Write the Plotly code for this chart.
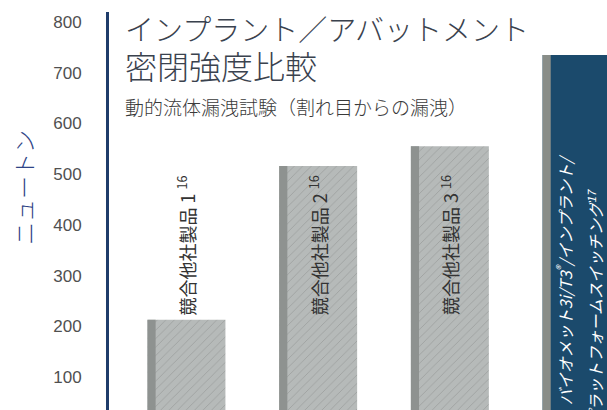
import plotly.graph_objects as go

# ---- data ----
categories = ["競合他社製品 1", "競合他社製品 2", "競合他社製品 3", "バイオメット3i/T3®"]
values = [213, 516, 555, 735]
ref_marks = ["16", "16", "16", "17"]
tick_vals = [100, 200, 300, 400, 500, 600, 700, 800]
tick_text = ["100", "200", "300", "400", "500", "600", "700", "800"]
bar4_lines = ["バイオメット3i/T3<sup>®</sup>/インプラント/", "プラットフォームスイッチング<sup>17</sup>"]

main_colors = ["#b6bab9", "#b6bab9", "#b6bab9", "#1b4a6c"]
edge_colors = ["#8e9290", "#8e9290", "#8e9290", "#898d88"]

BW = 0.592
EW = 0.062
JP = "Noto Sans CJK JP"

fig = go.Figure()
fig.add_trace(go.Bar(
    x=categories, y=values, width=BW, offset=-BW / 2,
    marker=dict(color=main_colors, line=dict(width=0),
                pattern=dict(shape=["/", "/", "/", ""], fgcolor="#d0d3d2",
                             fgopacity=0.25, size=6, solidity=0.12)),
    hoverinfo="skip", showlegend=False,
))
fig.add_trace(go.Bar(
    x=categories, y=values, width=EW, offset=-BW / 2,
    marker=dict(color=edge_colors, line=dict(width=0)),
    hoverinfo="skip", showlegend=False,
))

annotations = []
# rotated labels for competitor bars
label_y = 360
for i in range(3):
    annotations.append(dict(
        x=categories[i], y=label_y, xref="x", yref="y",
        text=f"{categories[i]} <sup>{ref_marks[i]}</sup>",
        textangle=-90, showarrow=False, xanchor="center", yanchor="middle",
        font=dict(family=JP, size=18, color="#333333"),
    ))
# Biomet bar two lines
annotations.append(dict(
    x=categories[3], xshift=-17, y=292, xref="x", yref="y", text=bar4_lines[0],
    textangle=-90, showarrow=False, xanchor="center", yanchor="middle",
    font=dict(family=JP, size=16, color="#ffffff", style="italic"),
))
annotations.append(dict(
    x=categories[3], xshift=13, y=236, xref="x", yref="y", text=bar4_lines[1],
    textangle=-90, showarrow=False, xanchor="center", yanchor="middle",
    font=dict(family=JP, size=16, color="#ffffff", style="italic"),
))
# titles
annotations += [
    dict(x=0.028, y=0.912, xref="paper", yref="paper", xanchor="left", yanchor="middle",
         align="left",
         text="インプラント／アバットメント<br><span style='font-size:32px'>密閉強度比較</span>",
         showarrow=False,
         font=dict(family=JP, size=29, color="#3a424e", weight=300)),
    dict(x=0.028, y=0.762, xref="paper", yref="paper", xanchor="left", yanchor="middle",
         text="動的流体漏洩試験（割れ目からの漏洩）", showarrow=False,
         font=dict(family=JP, size=19, color="#3a3a3a", weight=300)),
    dict(x=-0.1727, y=0.560, xref="paper", yref="paper", xanchor="center", yanchor="middle",
         text="ニュートン", textangle=-90, showarrow=False,
         font=dict(family=JP, size=23, color="#2e4486", weight=300)),
]

fig.update_layout(
    width=607, height=410,
    margin=dict(l=109, r=0, t=12, b=0),
    paper_bgcolor="#ffffff", plot_bgcolor="#ffffff",
    barmode="overlay",
    annotations=annotations,
    xaxis=dict(range=[-0.588, 3.193], showticklabels=False, showgrid=False,
               zeroline=False, showline=False, ticks="", fixedrange=True),
    yaxis=dict(range=[34.9, 819.8], tickvals=tick_vals, ticktext=tick_text,
               showgrid=False, zeroline=False, showline=True, linecolor="#1f3c6a",
               linewidth=3, ticks="", ticklabelstandoff=21,
               tickfont=dict(family="Liberation Sans", size=17, color="#505050")),
)

fig.write_html("out.html")
